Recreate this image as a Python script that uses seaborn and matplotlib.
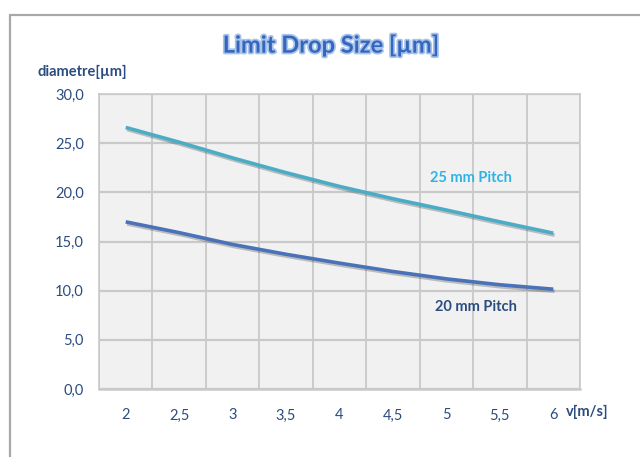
import matplotlib
matplotlib.use("Agg")
import matplotlib.pyplot as plt
import matplotlib.patheffects as pe
from matplotlib.lines import Line2D
import numpy as np
import pandas as pd
import seaborn as sns

# data
speed = [2, 2.5, 3, 3.5, 4, 4.5, 5, 5.5, 6]
speed_labels = ["2", "2,5", "3", "3,5", "4", "4,5", "5", "5,5", "6"]
pitch25 = [26.6, 25.1, 23.5, 22.0, 20.6, 19.35, 18.2, 17.0, 15.85]
pitch20 = [17.0, 15.9, 14.7, 13.7, 12.8, 11.95, 11.2, 10.6, 10.15]
y_ticks = [0, 5, 10, 15, 20, 25, 30]

df = pd.DataFrame({
    "v": speed * 2,
    "d": pitch25 + pitch20,
    "pitch": ["25 mm Pitch"] * len(speed) + ["20 mm Pitch"] * len(speed),
})

sns.set_theme(style="white")
plt.rcParams['font.family'] = ['Lato', 'DejaVu Sans']

c25 = "#4BACC6"
c20 = "#4A72B8"
txt = "#2B4C7E"
gridc = "#C9C9C9"

fig = plt.figure(figsize=(6.4, 4.57), dpi=100)
fig.patch.set_facecolor("white")
ax = fig.add_axes([99 / 640, 1 - 389 / 457, 481 / 640, 295 / 457])
ax.set_facecolor("#F1F1F1")

sns.lineplot(data=df, x="v", y="d", hue="pitch",
             palette={"25 mm Pitch": c25, "20 mm Pitch": c20},
             linewidth=2.6, legend=False, ax=ax)
for ln in ax.get_lines():
    ln.set_path_effects([pe.SimpleLineShadow(offset=(1, -1.5), alpha=0.25),
                         pe.Normal()])
    ln.set_solid_capstyle("butt")

ax.set_xlim(1.75, 6.25)
ax.set_ylim(0, 30)
ax.set_xticks(speed)
ax.set_xticklabels(speed_labels)
ax.set_xticks(np.arange(1.75, 6.26, 0.5), minor=True)
ax.set_yticks(y_ticks)
ax.set_yticklabels([f"{t:.1f}".replace(".", ",") for t in y_ticks])

ax.grid(False)
ax.grid(True, axis="x", which="minor", color=gridc, linewidth=1.3)
ax.grid(True, axis="y", which="major", color=gridc, linewidth=1.6)
ax.tick_params(axis="x", which="major", length=0, pad=14, labelsize=10.5, labelcolor=txt)
ax.tick_params(axis="x", which="minor", length=5, width=1.2, color=gridc, direction="out")
ax.tick_params(axis="y", length=5, width=1.2, color=gridc, direction="out", pad=6,
               labelsize=10.5, labelcolor=txt)
for s in ax.spines.values():
    s.set_color(gridc)
    s.set_linewidth(1.2)
ax.spines["bottom"].set_linewidth(1.8)
ax.set_xlabel("")
ax.set_ylabel("")

ax.text(5.23, 21.5, "25 mm Pitch", color="#2FB2E4", fontsize=10.5,
        fontweight="bold", ha="center", va="center")
ax.text(5.28, 8.3, "20 mm Pitch", color="#2B4C7E", fontsize=10.5,
        fontweight="bold", ha="center", va="center")

fig.text(37 / 640, 1 - 72 / 457, "diametre[µm]", color=txt, fontsize=10.5,
         fontweight="bold", ha="left", va="center")
fig.text(566 / 640, 1 - 412 / 457, "v[m/s]", color=txt, fontsize=10.5,
         fontweight="bold", ha="left", va="center")
fig.text(331 / 640, 1 - 45 / 457, "Limit Drop Size [µm]", color="#3566BE",
         fontsize=17, fontweight="bold", ha="center", va="center",
         path_effects=[pe.withStroke(linewidth=2.5, foreground="#A9C4EA")])

# outer chart frame
fig.add_artist(Line2D([10 / 640, 10 / 640], [0, 1 - 15 / 457],
                      color="#A8A8A8", linewidth=1.6, transform=fig.transFigure))
fig.add_artist(Line2D([10 / 640, 1], [1 - 15 / 457, 1 - 15 / 457],
                      color="#A8A8A8", linewidth=1.6, transform=fig.transFigure))

fig.savefig("out.png", dpi=100, facecolor="white")
